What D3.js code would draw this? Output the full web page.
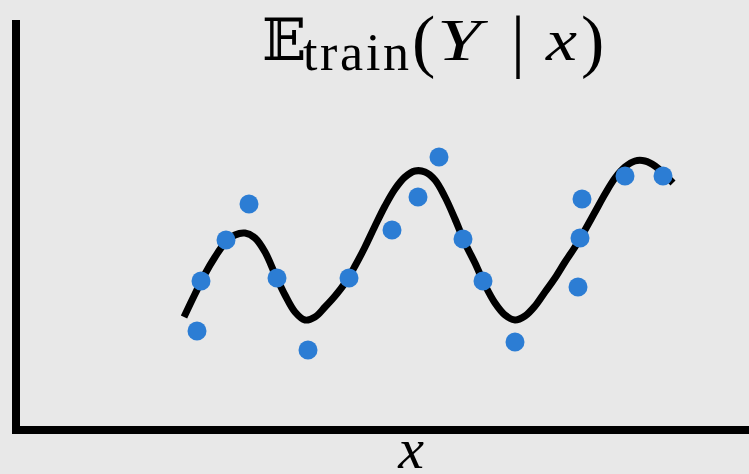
<!DOCTYPE html>
<html>
<head>
<meta charset="utf-8">
<script src="https://cdn.jsdelivr.net/npm/d3@7"></script>
<style>
  html, body { margin: 0; padding: 0; background: #e8e8e8; }
  svg { display: block; }
</style>
</head>
<body>
<script>
// Fitted conditional mean, sampled along x
const curveX = [1.68, 1.79, 1.89, 1.99, 2.09, 2.19, 2.29, 2.39, 2.49, 2.59,
                2.69, 2.79, 2.89, 2.99, 3.09, 3.19, 3.29, 3.39, 3.49, 3.59,
                3.69, 3.79, 3.89, 3.99, 4.09, 4.19, 4.29, 4.39, 4.49, 4.59,
                4.69, 4.79, 4.89, 4.99, 5.09, 5.19, 5.29, 5.39, 5.49, 5.59,
                5.69, 5.79, 5.89, 5.99, 6.09, 6.19, 6.29, 6.39, 6.49, 6.57];
const curveY = [1.13, 1.36, 1.56, 1.73, 1.87, 1.95, 1.97, 1.92, 1.78, 1.56,
                1.35, 1.18, 1.10, 1.13, 1.23, 1.34, 1.47, 1.64, 1.83, 2.04,
                2.24, 2.41, 2.53, 2.59, 2.58, 2.50, 2.33, 2.11, 1.87, 1.67,
                1.45, 1.27, 1.15, 1.10, 1.14, 1.24, 1.38, 1.52, 1.68, 1.83,
                2.00, 2.18, 2.36, 2.52, 2.63, 2.69, 2.69, 2.64, 2.55, 2.47];

// Training observations
const pointX = [1.81, 1.85, 2.10, 2.33, 2.61, 2.92, 3.33, 3.76, 4.02,
                4.23, 4.47, 4.67, 4.99, 5.62, 5.64, 5.66, 6.09, 6.47];
const pointY = [0.99, 1.49, 1.90, 2.26, 1.52, 0.80, 1.52, 2.00, 2.33,
                2.73, 1.91, 1.49, 0.88, 1.43, 1.92, 2.31, 2.54, 2.54];

const W = 749, H = 474;
const svg = d3.select("body").append("svg").attr("width", W).attr("height", H);
svg.append("rect").attr("width", W).attr("height", H).attr("fill", "#e8e8e8");

const x = d3.scaleLinear().domain([0, 7.33]).range([16, 749]);
const y = d3.scaleLinear().domain([0, 4.1]).range([430, 20]);

// Axes: plain heavy spines, no ticks
svg.append("path")
  .attr("d", `M${x(0)},${y(4.1)} V${y(0)} H${x(7.33)}`)
  .attr("fill", "none")
  .attr("stroke", "#000")
  .attr("stroke-width", 8)
  .attr("stroke-linejoin", "miter");

// Mean curve
const line = d3.line()
  .x(d => x(d[0]))
  .y(d => y(d[1]))
  .curve(d3.curveCatmullRom.alpha(0.5));
svg.append("path")
  .datum(d3.zip(curveX, curveY))
  .attr("d", line)
  .attr("fill", "none")
  .attr("stroke", "#000")
  .attr("stroke-width", 7)
  .attr("stroke-linecap", "butt");

// Points
svg.append("g").selectAll("circle")
  .data(d3.zip(pointX, pointY))
  .join("circle")
  .attr("cx", d => x(d[0]))
  .attr("cy", d => y(d[1]))
  .attr("r", 9.5)
  .attr("fill", "#2c7dd4");

// Title: E_train(Y | x), set piece by piece like a math formula
const serif = "'Liberation Serif', 'DejaVu Serif', serif";
const title = svg.append("g").attr("font-family", serif).attr("fill", "#000");
const base = 60;
function piece(str, px, py, size, opts = {}) {
  const t = title.append("text").attr("x", px).attr("y", py)
    .attr("font-size", size).text(str);
  if (opts.italic) t.attr("font-style", "italic");
  if (opts.family) t.attr("font-family", opts.family);
  if (opts.len) t.attr("textLength", opts.len).attr("lengthAdjust", opts.adjust || "spacingAndGlyphs");
  return t;
}
piece("𝔼", 262, base, 58, { family: "'DejaVu Serif', 'DejaVu Sans', serif" });
piece("train", 303, 70, 52, { len: 106, adjust: "spacing" });
piece("(", 412, 64, 70);
piece("Y", 437, base, 60, { italic: true, len: 44 });
piece("|", 511, 64, 70);
piece("x", 546, base, 60, { italic: true, len: 31 });
piece(")", 581, 64, 70);

// x-axis label
svg.append("text")
  .attr("x", 411).attr("y", 468)
  .attr("text-anchor", "middle")
  .attr("font-family", serif)
  .attr("font-style", "italic")
  .attr("font-size", 58)
  .text("x");
</script>
</body>
</html>
